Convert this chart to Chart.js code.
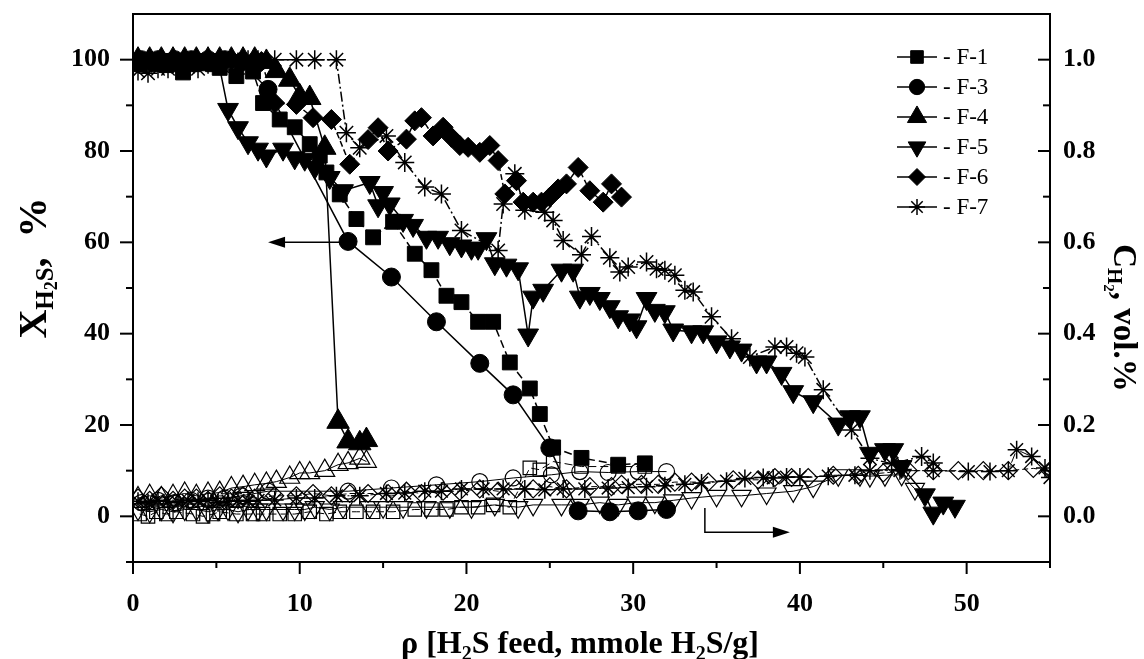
<!DOCTYPE html>
<html><head><meta charset="utf-8">
<script src="https://cdn.jsdelivr.net/npm/chart.js@4.4.0/dist/chart.umd.min.js"></script>
<style>html,body{margin:0;padding:0;background:#fff;}canvas{display:block;}</style>
</head><body>
<canvas id="c" width="1144" height="659"></canvas>
<script>
// ---------- data ----------
const seriesNames = ['F-1','F-3','F-4','F-5','F-6','F-7'];

// X_H2S conversion, %  (left axis, filled markers)
const f1Rho  = [0.4,0.9,1.4,2.0,2.6,3.0,3.6,4.2,4.8,5.2,6.2,7.2,7.8,8.8,9.7,10.6,11.2,11.6,12.4,13.4,14.4,15.6,16.9,17.9,18.8,19.7,20.7,21.6,22.6,23.8,24.4,25.2,26.9,29.1,30.7];
const f1Conv = [99,99.5,99,98.8,99,97.2,99,99.2,99,98.2,96.4,97.4,90.5,86.9,85.2,81.5,79,75.3,70.5,65.1,61.1,64.5,57.5,53.9,48.3,46.9,42.6,42.6,33.7,28.0,22.4,15.1,12.8,11.3,11.6];
const f3Rho  = [0.5,1.5,2.5,3.5,4.5,5.5,6.5,8.1,12.9,15.5,18.2,20.8,22.8,25.0,26.7,28.6,30.3,32.0];
const f3Conv = [100,100,100,100,100,100,99.5,93.5,60.2,52.4,42.6,33.5,26.6,15.0,1.2,1.0,1.2,1.5];
const f4Rho  = [0.3,1.0,1.7,2.4,3.1,3.8,4.5,5.2,5.9,6.6,7.3,8.0,8.6,9.4,10.0,10.6,11.5,12.3,12.9,13.6,14.0];
const f4Conv = [100,100,100,100,100,100,100,100,100,100,100,99.5,97.5,95.6,92.0,91.6,80.7,20.7,16.4,16.0,16.7];
const f5Rho  = [0.3,1.0,1.7,2.4,3.1,3.8,4.5,5.1,5.7,6.3,6.9,7.5,8.0,9.0,9.7,10.3,10.9,11.8,12.6,14.2,14.7,15.0,15.4,16.2,16.8,17.6,18.3,19.0,19.7,20.3,20.7,21.2,21.7,22.4,23.1,23.7,24.0,24.6,25.7,26.4,26.8,27.4,28.0,28.6,29.1,29.8,30.2,30.8,31.3,31.9,32.4,33.5,34.2,35.0,35.8,36.5,37.4,38.0,38.9,39.6,40.8,42.3,43.0,43.6,44.2,45.1,45.6,46.1,47.5,48.0,48.6,49.3];
const f5Conv = [100,100,100,100,100,100,100,100,89.1,85.1,81.8,80.4,78.9,80.4,78.5,78.2,76.4,74.2,71.3,73.1,68.0,70.9,68.4,64.8,63.7,61.1,61.1,59.7,59.2,58.7,58.7,60.8,55.3,55.0,54.2,39.7,48.0,49.5,53.9,53.9,48.0,48.8,47.7,45.9,43.7,43.0,41.5,47.7,45.1,44.8,40.8,40.4,40.4,38.2,37.1,36.4,33.8,33.8,31.3,27.3,25.1,20.2,21.8,21.8,13.8,14.6,14.6,10.9,4.7,0.7,2.9,2.2];
const f6Rho  = [0.3,1.0,1.7,2.4,3.1,3.8,4.5,5.2,5.9,6.6,7.3,7.7,8.5,9.8,10.8,11.9,13.0,14.1,14.7,15.3,16.4,16.9,17.3,18.0,18.6,19.1,19.6,20.1,20.8,21.4,21.9,22.3,23.0,23.4,24.0,24.5,25.0,25.5,26.0,26.7,27.4,28.2,28.7,29.3];
const f6Conv = [100,100,100,100,100,100,100,100,100,100,100,99.6,90.5,90.2,87.3,86.9,77.1,82.5,85.1,80.0,82.6,86.6,87.3,83.3,85.2,83.0,81.2,80.8,79.7,81.2,77.9,70.6,73.5,68.8,68.8,68.8,69.9,71.7,72.8,76.4,71.3,68.8,72.8,69.9];
const f7Rho  = [0.3,0.9,1.5,2.1,2.7,3.3,3.9,4.5,5.1,5.7,6.3,6.9,7.5,8.5,9.8,10.9,12.2,12.8,13.6,15.2,16.3,17.5,18.5,19.7,21.9,22.2,22.9,23.5,24.7,25.2,25.8,26.9,27.5,28.6,29.2,29.7,30.8,31.4,31.9,32.5,33.1,33.6,34.7,35.9,37.0,38.5,39.2,39.8,40.3,41.4,43.1,44.2,45.5,47.3,48.0];
const f7Conv = [97.5,97,98,98,98.5,98.5,98,99,99,99.5,99.5,100,100,100,100,100,100,84,80.7,83.3,77.5,72.1,70.6,62.6,58.2,68.4,75,67,66.6,64.8,60.4,57.3,61.3,56.6,53.5,54.6,55.7,54.2,53.9,52.8,49.5,49.1,43.7,38.9,34.9,37.1,37.1,35.7,34.9,27.7,18.9,12.7,11.5,13.1,11.7];

// C_H2, vol.%  (right axis, open markers)
const f1H2Rho = [0.4,0.9,1.4,2.0,2.6,3.6,4.2,4.8,5.2,6.2,7.2,7.8,8.8,9.7,10.6,11.6,12.4,13.4,14.4,15.6,16.9,17.9,18.8,19.7,20.7,21.6,22.6,23.8,24.4,25.2,26.9,29.1,30.7];
const f1H2    = [0.005,0.0,0.01,0.005,0.01,0.005,0.0,0.005,0.01,0.005,0.005,0.005,0.005,0.005,0.01,0.005,0.01,0.01,0.01,0.01,0.015,0.015,0.015,0.02,0.02,0.025,0.02,0.106,0.102,0.12,0.109,0.109,0.109];
const f3H2Rho = [0.5,1.5,2.5,3.5,4.5,5.5,6.5,8.1,12.9,15.5,18.2,20.8,22.8,25.1,26.8,28.5,30.3,32.0];
const f3H2    = [0.03,0.035,0.03,0.035,0.04,0.04,0.045,0.055,0.055,0.062,0.069,0.076,0.084,0.091,0.098,0.096,0.098,0.098];
const f4H2Rho = [0.3,1.0,1.7,2.4,3.1,3.8,4.5,5.2,5.9,6.6,7.3,8.0,8.6,9.4,10.0,10.6,11.5,12.3,12.9,13.6,14.0];
const f4H2    = [0.04,0.045,0.04,0.045,0.05,0.045,0.05,0.052,0.062,0.065,0.069,0.072,0.076,0.085,0.095,0.095,0.1,0.113,0.117,0.127,0.12];
const f5H2Rho = [0.3,1.0,1.7,2.4,3.1,3.8,4.5,5.1,5.7,6.3,6.9,7.5,8.0,9.0,9.7,10.3,10.9,11.8,12.6,14.2,15.0,16.2,17.6,19.0,20.3,21.7,23.1,24.0,25.7,26.8,28.0,29.1,30.2,31.3,32.4,33.5,35.0,36.5,38.0,39.6,40.8,42.3,43.6,44.2,45.1,46.1,46.9];
const f5H2    = [0.015,0.01,0.015,0.01,0.015,0.015,0.01,0.015,0.015,0.01,0.015,0.015,0.015,0.015,0.015,0.015,0.02,0.015,0.02,0.02,0.02,0.02,0.02,0.02,0.02,0.025,0.02,0.025,0.025,0.025,0.03,0.025,0.03,0.03,0.035,0.04,0.045,0.045,0.05,0.055,0.065,0.09,0.09,0.088,0.09,0.091,0.06];
const f6H2Rho = [0.3,1.0,1.7,2.4,3.1,3.8,4.5,5.2,5.9,6.6,7.3,8.5,9.8,10.8,11.9,13.0,14.1,15.3,16.4,17.3,18.6,19.6,20.8,21.9,23.0,24.0,25.0,26.0,27.4,28.7,29.3,30.5,31.5,32.5,33.5,34.5,36.0,37.5,38.5,39.5,40.5,42.0,43.5,45.0,46.5,48.0,49.5,51.0,52.5,54.0,55.0];
const f6H2    = [0.04,0.035,0.045,0.035,0.04,0.04,0.035,0.045,0.04,0.045,0.04,0.045,0.045,0.05,0.045,0.05,0.05,0.05,0.055,0.05,0.055,0.055,0.06,0.055,0.06,0.06,0.065,0.06,0.065,0.065,0.07,0.07,0.07,0.075,0.075,0.075,0.08,0.08,0.085,0.085,0.085,0.09,0.09,0.095,0.1,0.1,0.1,0.1,0.1,0.105,0.1];
const f7H2Rho = [0.3,0.9,1.5,2.1,2.7,3.3,3.9,4.5,5.1,5.7,6.3,6.9,7.5,8.5,9.8,10.9,12.2,13.6,15.2,16.3,17.5,18.5,19.7,21.0,22.2,23.5,24.7,25.8,27.1,28.5,29.7,30.8,31.9,33.1,34.1,35.6,36.7,37.8,38.4,39.2,40.0,41.7,43.3,44.2,46.0,48.0,50.1,51.4,52.5,53.0,53.9,54.7,55.0];
const f7H2    = [0.033,0.03,0.035,0.033,0.03,0.035,0.033,0.035,0.03,0.033,0.035,0.033,0.035,0.036,0.04,0.04,0.045,0.045,0.05,0.051,0.055,0.055,0.06,0.06,0.06,0.06,0.058,0.06,0.06,0.062,0.063,0.065,0.067,0.07,0.073,0.077,0.083,0.085,0.084,0.086,0.086,0.088,0.09,0.1,0.1,0.1,0.098,0.098,0.1,0.146,0.131,0.106,0.085];

// axis ticks
const xMajorTicks  = [0,10,20,30,40,50];
const xMinorTicks  = [5,15,25,35,45,55];
const yMajorTicks  = [0,20,40,60,80,100];
const yMinorTicks  = [-10,10,30,50,70,90];
const y2MajorTicks = [0,0.2,0.4,0.6,0.8,1.0];
const y2MinorTicks = [0.1,0.3,0.5,0.7,0.9];

// annotation arrows (data units of left axis)
const arrowToLeft  = [[12.6,60],[8.1,60]];
const arrowToRight = [[34.3,1.8],[34.3,-3.5],[39.4,-3.5]];

// ---------- styles ----------
const SERIF = '"Liberation Serif","Times New Roman",serif';
const markerStyles = ['rect','circle','triangle','triangle','rectRot','star'];
const markerRot    = [0,0,0,180,0,0];
const markerRadius = [10.5,9,13,12,10,9.5];
const openRadius   = [9.5,8,11.5,11,9,9];
const lineDash     = [[8,4],[],[],[],[6,3],[10,3,2,3]];

function makeSet(label, xs, ys, i, open){
  return {
    label: label,
    data: xs.map((x,k)=>({x:x, y:ys[k]})),
    yAxisID: open ? 'y2' : 'y',
    showLine: true,
    borderColor: '#000',
    borderWidth: open ? 1 : 1.5,
    borderDash: lineDash[i],
    tension: 0,
    pointStyle: markerStyles[i],
    pointRotation: markerRot[i],
    pointRadius: open ? openRadius[i] : markerRadius[i],
    pointHoverRadius: open ? openRadius[i] : markerRadius[i],
    pointBackgroundColor: open ? 'rgba(0,0,0,0)' : '#000',
    pointBorderColor: '#000',
    pointBorderWidth: (markerStyles[i]==='star') ? 1.5 : (open ? 1.2 : 1)
  };
}

const convX = [f1Rho,f3Rho,f4Rho,f5Rho,f6Rho,f7Rho];
const convY = [f1Conv,f3Conv,f4Conv,f5Conv,f6Conv,f7Conv];
const h2X = [f1H2Rho,f3H2Rho,f4H2Rho,f5H2Rho,f6H2Rho,f7H2Rho];
const h2Y = [f1H2,f3H2,f4H2,f5H2,f6H2,f7H2];

const datasets = [];
seriesNames.forEach((n,i)=>datasets.push(makeSet(n, convX[i], convY[i], i, false)));
seriesNames.forEach((n,i)=>datasets.push(makeSet(n+' H2', h2X[i], h2Y[i], i, true)));

// ---------- helpers for drawing ----------
function drawMarker(ctx, style, rot, r, x, y, fill){
  if (Chart.helpers && Chart.helpers.drawPoint){
    ctx.save();
    ctx.fillStyle = fill ? '#000' : 'rgba(0,0,0,0)';
    ctx.strokeStyle = '#000';
    ctx.lineWidth = style==='star' ? 1.5 : 1;
    Chart.helpers.drawPoint(ctx, {pointStyle: style, rotation: rot, radius: r, borderWidth: ctx.lineWidth}, x, y);
    ctx.restore();
  }
}

function drawRich(ctx, parts, cx, cy, rot, base){
  ctx.save();
  ctx.translate(cx, cy);
  ctx.rotate(rot);
  ctx.fillStyle = '#000';
  ctx.textBaseline = 'alphabetic';
  let w = 0;
  parts.forEach(p=>{ ctx.font = 'bold '+p.s+'px '+SERIF; p.w = ctx.measureText(p.t).width; w += p.w; });
  let x = -w/2;
  parts.forEach(p=>{ ctx.font = 'bold '+p.s+'px '+SERIF; ctx.fillText(p.t, x, base + p.dy); x += p.w; });
  ctx.restore();
}

function arrowHead(ctx, x, y, dir){
  ctx.beginPath();
  ctx.moveTo(x, y);
  ctx.lineTo(x - dir*17, y - 5.5);
  ctx.lineTo(x - dir*17, y + 5.5);
  ctx.closePath();
  ctx.fill();
}

const decorPlugin = {
  id: 'decor',
  afterDraw(chart){
    const ctx = chart.ctx, a = chart.chartArea;
    const sx = chart.scales.x, sy = chart.scales.y, sy2 = chart.scales.y2;
    ctx.save();
    ctx.strokeStyle = '#000';
    ctx.fillStyle = '#000';
    ctx.lineWidth = 2;
    ctx.setLineDash([]);
    ctx.strokeRect(a.left, a.top, a.right - a.left, a.bottom - a.top);
    const seg = (x1,y1,x2,y2)=>{ ctx.beginPath(); ctx.moveTo(x1,y1); ctx.lineTo(x2,y2); ctx.stroke(); };
    xMajorTicks.forEach(v=>{ const p = sx.getPixelForValue(v); seg(p, a.bottom, p, a.bottom+12); });
    xMinorTicks.forEach(v=>{ const p = sx.getPixelForValue(v); seg(p, a.bottom, p, a.bottom+6); });
    yMajorTicks.forEach(v=>{ const p = sy.getPixelForValue(v); seg(a.left-13, p, a.left, p); });
    yMinorTicks.forEach(v=>{ const p = sy.getPixelForValue(v); seg(a.left-7, p, a.left, p); });
    y2MajorTicks.forEach(v=>{ const p = sy2.getPixelForValue(v); seg(a.right-12, p, a.right, p); });
    y2MinorTicks.forEach(v=>{ const p = sy2.getPixelForValue(v); seg(a.right-7, p, a.right, p); });

    // arrows
    ctx.lineWidth = 1.5;
    let p0 = arrowToLeft.map(q=>[sx.getPixelForValue(q[0]), sy.getPixelForValue(q[1])]);
    seg(p0[0][0], p0[0][1], p0[1][0]+10, p0[1][1]);
    arrowHead(ctx, p0[1][0], p0[1][1], -1);
    let p1 = arrowToRight.map(q=>[sx.getPixelForValue(q[0]), sy.getPixelForValue(q[1])]);
    ctx.beginPath();
    ctx.moveTo(p1[0][0], p1[0][1]);
    ctx.lineTo(p1[1][0], p1[1][1]);
    ctx.lineTo(p1[2][0]-10, p1[2][1]);
    ctx.stroke();
    arrowHead(ctx, p1[2][0], p1[2][1], 1);

    // legend
    const lx0 = 897, lx1 = 937, ly0 = 57, step = 30;
    seriesNames.forEach((n,i)=>{
      const y = ly0 + i*step;
      ctx.lineWidth = 1.5;
      seg(lx0, y, lx1, y);
      drawMarker(ctx, markerStyles[i], markerRot[i], markerRadius[i]*0.85, (lx0+lx1)/2, y, true);
      ctx.fillStyle = '#000';
      ctx.font = '23px '+SERIF;
      ctx.textBaseline = 'middle';
      ctx.textAlign = 'left';
      ctx.fillText('- '+n, 943, y+1);
    });

    // axis titles
    drawRich(ctx, [{t:'X',s:40,dy:0},{t:'H',s:25,dy:7},{t:'2',s:18,dy:11},{t:'S',s:25,dy:7},{t:',  %',s:40,dy:0}], 33, 268, -Math.PI/2, 13);
    drawRich(ctx, [{t:'C',s:33,dy:0},{t:'H',s:21,dy:6},{t:'2',s:15,dy:10},{t:', vol.%',s:33,dy:0}], 1125, 318, Math.PI/2, 11);
    drawRich(ctx, [{t:'\u03C1 [H',s:32,dy:0},{t:'2',s:20,dy:7},{t:'S feed, mmole H',s:32,dy:0},{t:'2',s:20,dy:7},{t:'S/g]',s:32,dy:0}], 580, 642, 0, 11);
    ctx.restore();
  }
};

const tickFont = {family: SERIF, size: 26, weight: 'bold'};
function noPad(s){ s.paddingTop = 0; s.paddingBottom = 0; s.paddingLeft = 0; s.paddingRight = 0; }

new Chart(document.getElementById('c'), {
  type: 'scatter',
  data: { datasets: datasets },
  options: {
    responsive: false,
    animation: false,
    devicePixelRatio: 1,
    events: [],
    layout: { padding: { top: 12, left: 0, right: 0, bottom: 0 } },
    plugins: { legend: { display: false }, tooltip: { enabled: false } },
    scales: {
      x: {
        type: 'linear', position: 'bottom', min: 0, max: 55,
        grid: { display: false, drawTicks: false }, border: { display: false },
        ticks: { stepSize: 5, autoSkip: false, maxRotation: 0, padding: 27, color: '#000', font: tickFont,
          callback: v => xMajorTicks.includes(v) ? String(v) : '' },
        afterFit: s => { s.height = 97; noPad(s); }
      },
      y: {
        type: 'linear', position: 'left', min: -10, max: 110,
        grid: { display: false, drawTicks: false }, border: { display: false },
        ticks: { stepSize: 10, autoSkip: false, padding: 23, color: '#000', font: tickFont,
          callback: v => yMajorTicks.includes(Math.round(v)) && Math.abs(v-Math.round(v))<1e-6 ? String(Math.round(v)) : '' },
        afterFit: s => { s.width = 133; noPad(s); }
      },
      y2: {
        type: 'linear', position: 'right', min: -0.1, max: 1.1,
        grid: { display: false, drawTicks: false }, border: { display: false },
        ticks: { stepSize: 0.1, autoSkip: false, padding: 13, color: '#000', font: tickFont,
          callback: v => { const r = Math.round(v*10); return (r%2===0 && r>=0 && r<=10) ? (r/10).toFixed(1) : ''; } },
        afterFit: s => { s.width = 94; noPad(s); }
      }
    }
  },
  plugins: [decorPlugin]
});
</script>
</body></html>
